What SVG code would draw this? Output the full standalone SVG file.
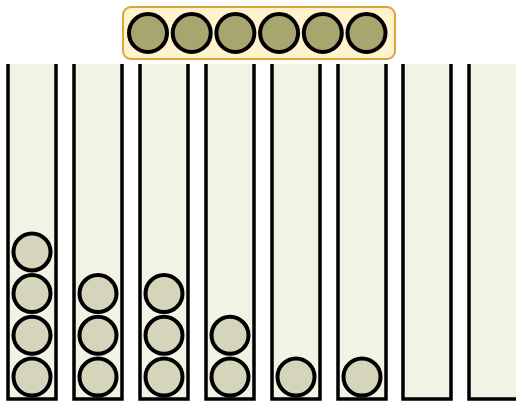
<svg xmlns="http://www.w3.org/2000/svg" width="516" height="401" viewBox="0 0 516 401">
<style>
.col{fill:#f2f2e5;stroke:none}
.wall{fill:none;stroke:#000;stroke-width:3.5}
.ball{fill:#d5d5bb;stroke:#000;stroke-width:4}
.tball{fill:#a6a66e;stroke:#000;stroke-width:4}
</style>
<rect width="516" height="401" fill="#fff"/>
<g id="tray">
<rect x="123" y="7" width="272" height="52" rx="8" fill="#fff2cc" stroke="#d6a636" stroke-width="2"/>
<circle class="tball" cx="148" cy="33" r="19"/>
<circle class="tball" cx="191.7" cy="33" r="19"/>
<circle class="tball" cx="235.4" cy="33" r="19"/>
<circle class="tball" cx="279.1" cy="33" r="19"/>
<circle class="tball" cx="322.8" cy="33" r="19"/>
<circle class="tball" cx="366.5" cy="33" r="19"/>
</g>
<g id="col1"><rect class="col" x="8" y="64" width="48" height="335"/><path class="wall" d="M8,64V399H56V64"/>
<circle class="ball" cx="32" cy="377" r="18.5"/><circle class="ball" cx="32" cy="335.3" r="18.5"/><circle class="ball" cx="32" cy="293.6" r="18.5"/><circle class="ball" cx="32" cy="251.9" r="18.5"/></g>
<g id="col2"><rect class="col" x="74" y="64" width="48" height="335"/><path class="wall" d="M74,64V399H122V64"/>
<circle class="ball" cx="98" cy="377" r="18.5"/><circle class="ball" cx="98" cy="335.3" r="18.5"/><circle class="ball" cx="98" cy="293.6" r="18.5"/></g>
<g id="col3"><rect class="col" x="140" y="64" width="48" height="335"/><path class="wall" d="M140,64V399H188V64"/>
<circle class="ball" cx="164" cy="377" r="18.5"/><circle class="ball" cx="164" cy="335.3" r="18.5"/><circle class="ball" cx="164" cy="293.6" r="18.5"/></g>
<g id="col4"><rect class="col" x="206" y="64" width="48" height="335"/><path class="wall" d="M206,64V399H254V64"/>
<circle class="ball" cx="230" cy="377" r="18.5"/><circle class="ball" cx="230" cy="335.3" r="18.5"/></g>
<g id="col5"><rect class="col" x="272" y="64" width="48" height="335"/><path class="wall" d="M272,64V399H320V64"/>
<circle class="ball" cx="296" cy="377" r="18.5"/></g>
<g id="col6"><rect class="col" x="338" y="64" width="48" height="335"/><path class="wall" d="M338,64V399H386V64"/>
<circle class="ball" cx="362" cy="377" r="18.5"/></g>
<g id="col7"><rect class="col" x="403" y="64" width="48" height="335"/><path class="wall" d="M403,64V399H451V64"/></g>
<g id="col8"><rect class="col" x="469" y="64" width="50" height="335"/><path class="wall" d="M469,64V399H521"/></g>
</svg>
